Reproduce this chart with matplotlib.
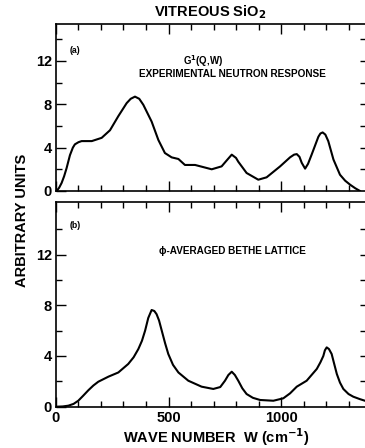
import numpy as np
import matplotlib.pyplot as plt
from matplotlib.ticker import MultipleLocator, FixedLocator

plt.rcParams['font.family'] = ['Liberation Sans', 'DejaVu Sans']
plt.rcParams['font.weight'] = 'bold'
plt.rcParams['mathtext.default'] = 'bf'

# (a) experimental neutron response G1(Q,W)
w_exp = [3, 14, 25, 36, 47, 62, 75, 84, 100, 114, 159, 203, 240, 277, 314, 332,
         351, 370, 388, 425, 455, 484, 514, 544, 573, 618, 655, 692, 736, 760,
         781, 800, 810, 847, 899, 936, 996, 1040, 1058, 1070, 1082, 1092, 1107,
         1120, 1136, 1166, 1175, 1185, 1197, 1210, 1233, 1262, 1285, 1307, 1330,
         1351]
g_exp = [0.0, 0.3, 0.74, 1.35, 2.1, 3.3, 4.0, 4.3, 4.5, 4.6, 4.6, 4.9, 5.6, 6.9,
         8.1, 8.5, 8.7, 8.5, 7.95, 6.4, 4.7, 3.5, 3.1, 2.95, 2.4, 2.4, 2.2, 2.0,
         2.27, 2.85, 3.35, 3.05, 2.7, 1.66, 1.04, 1.26, 2.27, 3.1, 3.35, 3.4,
         3.15, 2.6, 2.06, 2.5, 3.35, 5.0, 5.3, 5.4, 5.2, 4.6, 2.9, 1.5, 0.95,
         0.58, 0.25, 0.0]

# (b) phi-averaged Bethe lattice
w_bethe = [3, 30, 55, 78, 99, 120, 144, 166, 188, 233, 277, 321, 345, 366, 382,
           396, 410, 425, 437, 447, 458, 470, 485, 499, 520, 544, 588, 647, 699,
           730, 751, 766, 781, 795, 810, 828, 847, 875, 907, 966, 1010, 1040,
           1070, 1114, 1159, 1175, 1188, 1195, 1203, 1213, 1225, 1236, 1248,
           1262, 1277, 1300, 1321, 1350, 1373]
g_bethe = [0.0, 0.02, 0.08, 0.22, 0.47, 0.85, 1.3, 1.67, 1.97, 2.37, 2.7, 3.37,
           3.9, 4.55, 5.2, 6.0, 7.0, 7.63, 7.55, 7.3, 6.8, 6.0, 5.0, 4.16, 3.3,
           2.7, 2.05, 1.58, 1.4, 1.55, 2.05, 2.5, 2.76, 2.5, 2.05, 1.45, 1.0,
           0.7, 0.53, 0.47, 0.66, 1.05, 1.58, 2.05, 2.98, 3.5, 4.0, 4.45, 4.68,
           4.55, 4.16, 3.4, 2.58, 1.9, 1.4, 1.0, 0.79, 0.6, 0.47]

fig = plt.figure(figsize=(3.65, 4.48), dpi=100)
ax_a = fig.add_axes([0.1534, 0.5737, 0.8477, 0.3728])
ax_b = fig.add_axes([0.1534, 0.0922, 0.8477, 0.4569])


def style_axis(ax, ytop):
    ax.set_xlim(0, 1375)
    ax.set_ylim(0, ytop)
    ax.xaxis.set_major_locator(MultipleLocator(500))
    ax.xaxis.set_minor_locator(MultipleLocator(100))
    ax.yaxis.set_major_locator(FixedLocator([0, 4, 8, 12]))
    ax.yaxis.set_minor_locator(FixedLocator([2, 6, 10, 14]))
    ax.tick_params(which='both', direction='in', top=True, bottom=True,
                   left=True, right=False, width=1.0, labelsize=10.5, pad=3)
    ax.tick_params(which='major', length=7)
    ax.tick_params(which='minor', length=4.5)
    ax.spines['right'].set_visible(False)
    for s in ['left', 'top', 'bottom']:
        ax.spines[s].set_linewidth(1.2)
    sec = ax.secondary_yaxis('right')
    sec.yaxis.set_major_locator(FixedLocator([2, 4, 6, 8, 10, 12, 14]))
    sec.tick_params(direction='in', length=3.5, width=1.0, labelright=False)
    sec.spines['right'].set_visible(False)


ax_a.plot(w_exp, g_exp, color='black', lw=1.5, solid_joinstyle='round')
style_axis(ax_a, 15.4)
ax_a.tick_params(labelbottom=False)

ax_b.plot(w_bethe, g_bethe, color='black', lw=1.5, solid_joinstyle='round')
style_axis(ax_b, 16.15)
ax_b.set_xticks([0, 500, 1000])
ax_b.set_xticklabels(['0', '500', '1000'], fontweight='bold')

fig.text(0.575, 0.972, 'VITREOUS SiO$_2$', ha='center', va='center',
         fontsize=10.5, fontweight='bold')
fig.text(0.192, 0.888, '(a)', ha='left', va='center', fontsize=6.3)
fig.text(0.556, 0.864, 'G$^1$(Q,W)', ha='center', va='center', fontsize=7)
fig.text(0.636, 0.835, 'EXPERIMENTAL NEUTRON RESPONSE', ha='center', va='center',
         fontsize=7.2)
fig.text(0.192, 0.496, '(b)', ha='left', va='center', fontsize=6.3)
fig.text(0.638, 0.440, '\u03d5-AVERAGED BETHE LATTICE', ha='center', va='center',
         fontsize=7.2)
fig.text(0.06, 0.509, 'ARBITRARY UNITS', rotation=90, ha='center', va='center',
         fontsize=10.5, fontweight='bold')
fig.text(0.592, 0.025, 'WAVE NUMBER  W (cm$^{-1}$)', ha='center',
         va='center', fontsize=10.5, fontweight='bold')

fig.savefig('out.png', dpi=100)
